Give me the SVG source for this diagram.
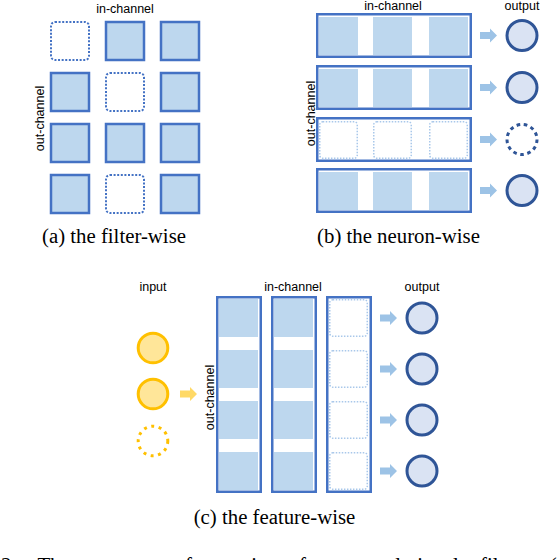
<svg xmlns="http://www.w3.org/2000/svg" width="558" height="560" viewBox="0 0 558 560">
<defs>
<style>
.lbl{font-family:"Liberation Sans",Arial,sans-serif;font-size:12.5px;fill:#000;text-anchor:middle}
.cap{font-family:"Liberation Serif","Times New Roman",serif;font-size:20.8px;fill:#000;text-anchor:middle}
.sq{fill:#BDD7EE;stroke:#4472C4;stroke-width:2.5}
.sqd{fill:#fff;stroke:#4472C4;stroke-width:2;stroke-dasharray:2 1.6}
.box{fill:#fff;stroke:#4472C4;stroke-width:2.5}
.in{fill:#BDD7EE}
.ind{fill:#fff;stroke:#A9C8EA;stroke-width:1.5;stroke-dasharray:1.5 1.5}
.out{fill:#DAE3F3;stroke:#2F5597;stroke-width:3}
.outd{fill:none;stroke:#2F5597;stroke-width:3;stroke-dasharray:3.6 3.6}
.inp{fill:#FFE699;stroke:#FFC000;stroke-width:3}
.inpd{fill:none;stroke:#FFC000;stroke-width:3;stroke-dasharray:3 4.5}
.arr{fill:#9DC3E6}
.arry{fill:#FFD966}
</style>
<path id="arrow" d="M0,-3.5H10V-7L17,0L10,7V3.5H0Z"/>
</defs>

<!-- (a) filter-wise -->
<g id="filter-wise">
<text class="lbl" x="125" y="13">in-channel</text>
<text class="lbl" transform="translate(44,118.5) rotate(-90)">out-channel</text>
<rect class="sqd" x="51" y="22" width="38" height="38" rx="4"/>
<rect class="sq" x="106" y="22" width="38" height="38"/>
<rect class="sq" x="161" y="22" width="38" height="38"/>
<rect class="sq" x="51" y="73" width="38" height="38"/>
<rect class="sqd" x="106" y="73" width="38" height="38" rx="4"/>
<rect class="sq" x="161" y="73" width="38" height="38"/>
<rect class="sq" x="51" y="124" width="38" height="38"/>
<rect class="sq" x="106" y="124" width="38" height="38"/>
<rect class="sq" x="161" y="124" width="38" height="38"/>
<rect class="sq" x="51" y="175" width="38" height="38"/>
<rect class="sqd" x="106" y="175" width="38" height="38" rx="4"/>
<rect class="sq" x="161" y="175" width="38" height="38"/>
</g>

<!-- (b) neuron-wise -->
<g id="neuron-wise">
<text class="lbl" x="393" y="10">in-channel</text>
<text class="lbl" x="522" y="10">output</text>
<text class="lbl" transform="translate(314.5,113.5) rotate(-90)">out-channel</text>
<g id="nw-row1">
<rect class="box" x="317.25" y="14.25" width="153.5" height="42.5"/>
<rect class="in" x="319" y="17" width="39" height="38"/>
<rect class="in" x="373" y="17" width="39" height="38"/>
<rect class="in" x="429" y="17" width="39" height="38"/>
</g>
<g id="nw-row2">
<rect class="box" x="317.25" y="66.25" width="153.5" height="42.5"/>
<rect class="in" x="319" y="69" width="39" height="38"/>
<rect class="in" x="373" y="69" width="39" height="38"/>
<rect class="in" x="429" y="69" width="39" height="38"/>
</g>
<g id="nw-row3">
<rect class="box" x="317.25" y="118.25" width="153.5" height="42.5"/>
<rect class="ind" x="319.75" y="121.75" width="37.5" height="36.5" rx="3"/>
<rect class="ind" x="373.75" y="121.75" width="37.5" height="36.5" rx="3"/>
<rect class="ind" x="429.75" y="121.75" width="37.5" height="36.5" rx="3"/>
</g>
<g id="nw-row4">
<rect class="box" x="317.25" y="169.25" width="153.5" height="42.5"/>
<rect class="in" x="319" y="172" width="39" height="38"/>
<rect class="in" x="373" y="172" width="39" height="38"/>
<rect class="in" x="429" y="172" width="39" height="38"/>
</g>
<circle id="nw-out1" class="out" cx="522" cy="35.5" r="15"/>
<circle id="nw-out2" class="out" cx="522" cy="87.5" r="15"/>
<circle id="nw-out3" class="outd" cx="522" cy="139.5" r="15"/>
<circle id="nw-out4" class="out" cx="522" cy="190.5" r="15"/>
</g>

<!-- (c) feature-wise -->
<g id="feature-wise">
<text class="lbl" x="153" y="291">input</text>
<text class="lbl" x="293" y="291">in-channel</text>
<text class="lbl" x="422" y="291">output</text>
<text class="lbl" transform="translate(213.5,397.5) rotate(-90)">out-channel</text>
<circle id="fw-in1" class="inp" cx="153" cy="348" r="14.8"/>
<circle id="fw-in2" class="inp" cx="153" cy="394" r="14.8"/>
<circle id="fw-in3" class="inpd" cx="153" cy="441" r="14.8"/>
<g id="fw-col1">
<rect class="box" x="217.25" y="297.25" width="43.5" height="194.5"/>
<rect class="in" x="219" y="299" width="39" height="38"/>
<rect class="in" x="219" y="350" width="39" height="38"/>
<rect class="in" x="219" y="401" width="39" height="38"/>
<rect class="in" x="219" y="452" width="39" height="38"/>
</g>
<g id="fw-col2">
<rect class="box" x="272.25" y="297.25" width="43.5" height="194.5"/>
<rect class="in" x="274" y="299" width="39" height="38"/>
<rect class="in" x="274" y="350" width="39" height="38"/>
<rect class="in" x="274" y="401" width="39" height="38"/>
<rect class="in" x="274" y="452" width="39" height="38"/>
</g>
<g id="fw-col3">
<rect class="box" x="327.25" y="297.25" width="43.5" height="194.5"/>
<rect class="ind" x="329.75" y="299.75" width="37.5" height="36.5" rx="3"/>
<rect class="ind" x="329.75" y="350.75" width="37.5" height="36.5" rx="3"/>
<rect class="ind" x="329.75" y="401.75" width="37.5" height="36.5" rx="3"/>
<rect class="ind" x="329.75" y="452.75" width="37.5" height="36.5" rx="3"/>
</g>
<circle id="fw-out1" class="out" cx="422" cy="318" r="15"/>
<circle id="fw-out2" class="out" cx="422" cy="369" r="15"/>
<circle id="fw-out3" class="out" cx="422" cy="420" r="15"/>
<circle id="fw-out4" class="out" cx="422" cy="471" r="15"/>
</g>

<g id="connectors">
<use href="#arrow" class="arr" transform="translate(480,35.5)"/>
<use href="#arrow" class="arr" transform="translate(480,87.5)"/>
<use href="#arrow" class="arr" transform="translate(480,139.5)"/>
<use href="#arrow" class="arr" transform="translate(480,190.5)"/>
<use href="#arrow" class="arry" transform="translate(180,394)"/>
<use href="#arrow" class="arr" transform="translate(380,318)"/>
<use href="#arrow" class="arr" transform="translate(380,369)"/>
<use href="#arrow" class="arr" transform="translate(380,420)"/>
<use href="#arrow" class="arr" transform="translate(380,471)"/>
</g>

<g id="captions">
<text class="cap" x="114" y="243">(a) the filter-wise</text>
<text class="cap" x="398.5" y="243">(b) the neuron-wise</text>
<text class="cap" x="274.5" y="524">(c) the feature-wise</text>
<text class="cap" x="1" y="571.5" style="text-anchor:start;word-spacing:16px">2. The process of pruning for convolutional filters (</text>
</g>
</svg>
